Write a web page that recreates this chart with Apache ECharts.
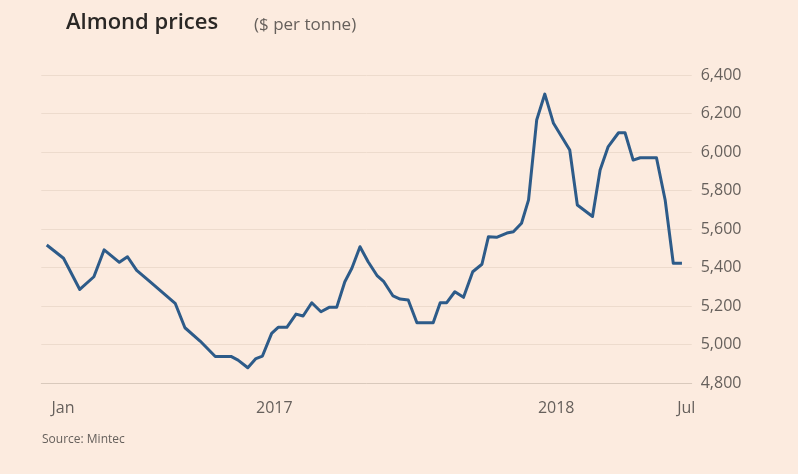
<!DOCTYPE html>
<html>
<head>
<meta charset="utf-8">
<script src="https://cdn.jsdelivr.net/npm/echarts@6/dist/echarts.min.js"></script>
<style>
html,body{margin:0;padding:0;background:#fcebdf;}
#chart{width:798px;height:474px;}
</style>
</head>
<body>
<div id="chart"></div>
<script>
// x position in weeks since the start of the series
const weeks = [0,3.1,6.1,8.7,10.6,13.4,14.9,16.6,19.1,23.7,25.5,28.3,31.1,34.0,35.3,37.1,38.6,39.8,41.5,42.7,44.3,46.0,47.3,48.9,50.6,52.1,53.5,55.0,56.3,57.8,59.3,61.0,62.2,63.9,65.2,66.7,68.3,71.3,72.6,73.8,75.3,76.9,78.6,80.3,81.5,83.0,84.9,86.1,87.6,88.9,90.4,91.9,93.5,96.5,97.9,100.7,102.1,103.6,105.5,106.7,108.2,109.5,112.5,114.1,115.6,117.2];
const prices = [5517,5448,5286,5352,5492,5427,5456,5385,5325,5214,5087,5018,4938,4938,4919,4879,4927,4940,5058,5089,5089,5158,5148,5217,5170,5193,5193,5326,5396,5508,5430,5356,5326,5252,5236,5231,5113,5113,5217,5217,5274,5245,5378,5417,5560,5557,5579,5586,5630,5751,6166,6301,6149,6010,5725,5665,5906,6028,6100,6100,5958,5970,5970,5751,5422,5422];
const xTickWeeks = [3,42,94,118];
const xTickLabels = ['Jan','2017','2018','Jul'];
const yTicks = [4800,5000,5200,5400,5600,5800,6000,6200,6400];

const font = '"Open Sans", "Noto Sans", sans-serif';
const labelMap = {};
xTickWeeks.forEach((w,i)=>{labelMap[w]=xTickLabels[i];});

const chart = echarts.init(document.getElementById('chart'));
chart.setOption({
  backgroundColor:'#fcebdf',
  animation:false,
  title:[
    {text:'Almond prices',left:61,top:7,textStyle:{fontFamily:font,fontSize:22,fontWeight:600,color:'#2a2725'}},
    {text:'($ per tonne)',left:249,top:12,textStyle:{fontFamily:font,fontSize:17,fontWeight:'normal',color:'#66605c'}},
    {text:'Source: Mintec',left:37,top:429,textStyle:{fontFamily:font,fontSize:12,fontWeight:'normal',color:'#66605c'}}
  ],
  grid:{left:41.3,right:106.3,top:75,bottom:91,containLabel:false},
  xAxis:{
    type:'value',min:-1,max:119,interval:1,
    axisLine:{show:true,lineStyle:{color:'#d9c9bc',width:1}},
    axisTick:{show:false},
    splitLine:{show:false},
    axisLabel:{
      margin:17,fontFamily:font,fontSize:16,color:'#66605c',
      formatter:function(v){return labelMap[Math.round(v)]!==undefined && Math.abs(v-Math.round(v))<1e-6 ? labelMap[Math.round(v)] : '';}
    }
  },
  yAxis:{
    type:'value',position:'right',min:yTicks[0],max:yTicks[yTicks.length-1],interval:200,
    axisLine:{show:false},axisTick:{show:false},
    splitLine:{show:true,lineStyle:{color:'#eddbcd',width:1}},
    axisLabel:{margin:9,fontFamily:font,fontSize:16,color:'#66605c',
      formatter:function(v){return v.toLocaleString('en-US');}}
  },
  series:[{
    type:'line',
    data:weeks.map((w,i)=>[w,prices[i]]),
    showSymbol:false,
    lineStyle:{color:'#2d5b89',width:3,join:'round'},
    itemStyle:{color:'#2d5b89'}
  }]
});
</script>
</body>
</html>
